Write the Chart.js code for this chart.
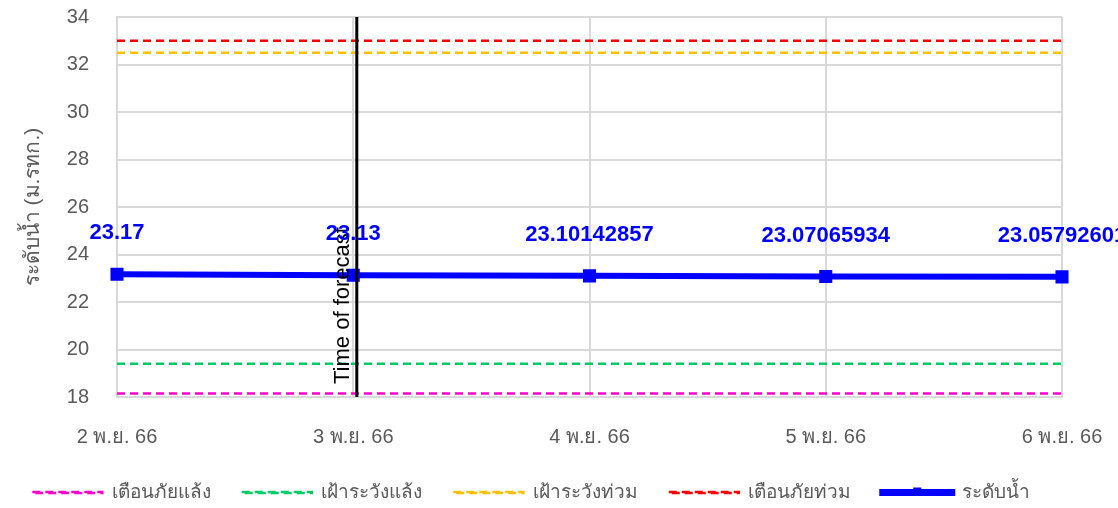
<!DOCTYPE html>
<html>
<head>
<meta charset="utf-8">
<script src="https://cdn.jsdelivr.net/npm/chart.js@4"></script>
<style>
  html, body { margin: 0; padding: 0; background: #fff; }
  #wrap { width: 1118px; height: 508px; }
</style>
</head>
<body>
<div id="wrap"><canvas id="levelChart"></canvas></div>
<script>
const days = ["2 พ.ย. 66", "3 พ.ย. 66", "4 พ.ย. 66", "5 พ.ย. 66", "6 พ.ย. 66"];
const waterLevel = [23.17, 23.13, 23.10142857, 23.07065934, 23.05792601];
const droughtWarning = [18.15, 18.15, 18.15, 18.15, 18.15];
const droughtWatch = [19.4, 19.4, 19.4, 19.4, 19.4];
const floodWatch = [32.5, 32.5, 32.5, 32.5, 32.5];
const floodWarning = [33, 33, 33, 33, 33];
const yTicks = { min: 18, max: 34, step: 2 };
const forecastIndex = 1;

const grey = "#595959";
const gridColor = "#d9d9d9";
const font = "'Liberation Sans', Arial, sans-serif";

function threshold(label, data, color) {
    return {
        label, data,
        borderColor: color,
        backgroundColor: "transparent",
        borderWidth: 2.5,
        borderDash: [8, 5],
        pointRadius: 0,
        pointHoverRadius: 0,
        tension: 0
    };
}

// value labels above the water level points + the forecast marker line
const extras = {
    id: "extras",
    afterDatasetsDraw(chart) {
        const ctx = chart.ctx;
        const x = chart.scales.x;
        const area = chart.chartArea;

        const fx = x.getPixelForValue(forecastIndex) + (x.getPixelForValue(forecastIndex + 1) - x.getPixelForValue(forecastIndex)) * 0.015;
        ctx.save();
        ctx.strokeStyle = "#000";
        ctx.lineWidth = 3;
        ctx.beginPath();
        ctx.moveTo(fx, area.top);
        ctx.lineTo(fx, area.bottom);
        ctx.stroke();

        ctx.translate(fx - 14, area.bottom - 13);
        ctx.rotate(-Math.PI / 2);
        ctx.fillStyle = "#000";
        ctx.font = "22px " + font;
        ctx.textAlign = "left";
        ctx.textBaseline = "middle";
        ctx.fillText("Time of forecast", 0, 0);
        ctx.restore();

        const meta = chart.getDatasetMeta(4);
        ctx.save();
        ctx.fillStyle = "#0000ff";
        ctx.font = "bold 22px " + font;
        ctx.textAlign = "center";
        ctx.textBaseline = "middle";
        meta.data.forEach((pt, i) => {
            ctx.fillText(String(waterLevel[i]), pt.x, pt.y - 41);
        });
        ctx.restore();
    },
    afterDraw(chart) {
        // marker on the water level legend sample
        const box = chart.legend && chart.legend.legendHitBoxes[4];
        if (!box) return;
        const ctx = chart.ctx;
        const cx = box.left + 35, cy = box.top + box.height / 2;
        ctx.save();
        ctx.fillStyle = "#0000ff";
        ctx.fillRect(cx - 4, cy - 5, 8, 8);
        ctx.restore();
    }
};

new Chart(document.getElementById("levelChart"), {
    type: "line",
    data: {
        labels: days,
        datasets: [
            threshold("เตือนภัยแล้ง", droughtWarning, "#ff00cc"),
            threshold("เฝ้าระวังแล้ง", droughtWatch, "#00cc66"),
            threshold("เฝ้าระวังท่วม", floodWatch, "#ffc000"),
            threshold("เตือนภัยท่วม", floodWarning, "#ff0000"),
            {
                label: "ระดับน้ำ",
                data: waterLevel,
                borderColor: "#0000ff",
                backgroundColor: "#0000ff",
                borderWidth: 6,
                pointStyle: "rect",
                pointRadius: 5,
                pointBackgroundColor: "#0000ff",
                tension: 0
            }
        ]
    },
    options: {
        responsive: true,
        maintainAspectRatio: false,
        animation: false,
        layout: { padding: { top: 17, right: 56, left: 0, bottom: 0 } },
        plugins: {
            tooltip: { enabled: false },
            legend: {
                position: "bottom",
                maxHeight: 56,
                labels: {
                    color: grey,
                    font: { size: 19, family: font },
                    boxWidth: 70,
                    boxHeight: 1,
                    padding: 31
                }
            }
        },
        scales: {
            x: {
                grid: { color: gridColor, lineWidth: 2, tickLength: 25, tickColor: "rgba(0,0,0,0)" },
                border: { color: gridColor, width: 2 },
                ticks: {
                    color: grey,
                    padding: 3,
                    maxRotation: 0,
                    font: { size: 20, family: font }
                },
                afterFit(scale) { scale.height = 55; }
            },
            y: {
                min: yTicks.min,
                max: yTicks.max,
                grid: { color: gridColor, lineWidth: 2, tickLength: 25, tickColor: "rgba(0,0,0,0)" },
                border: { color: gridColor, width: 2 },
                ticks: {
                    stepSize: yTicks.step,
                    color: grey,
                    padding: 3,
                    font: { size: 20, family: font }
                },
                title: {
                    display: true,
                    text: "ระดับน้ำ (ม.รทก.)",
                    color: grey,
                    padding: { top: 21, bottom: 0 },
                    font: { size: 21, family: font }
                },
                afterFit(scale) { scale.width = 117; }
            }
        }
    },
    plugins: [extras]
});
</script>
</body>
</html>
